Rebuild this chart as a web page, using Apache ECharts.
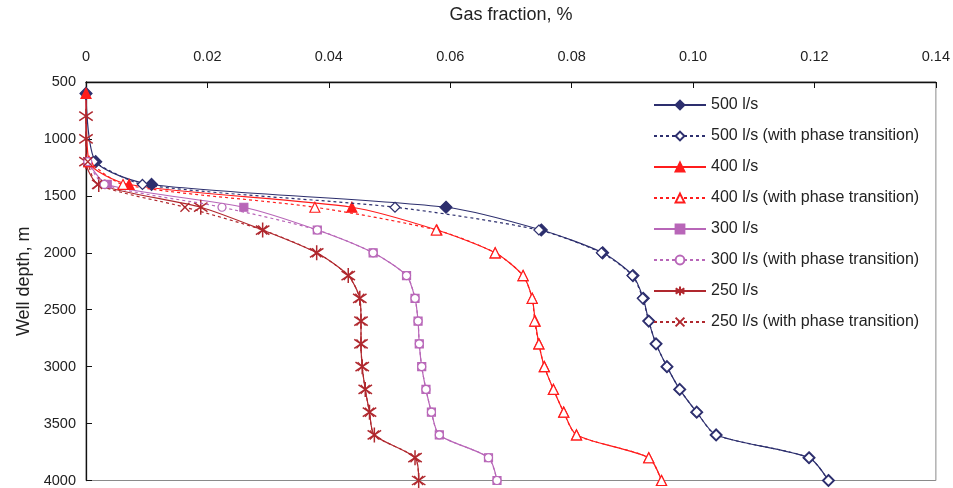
<!DOCTYPE html>
<html>
<head>
<meta charset="utf-8">
<script src="https://cdn.jsdelivr.net/npm/echarts@6/dist/echarts.min.js"></script>
<style>
  html, body { margin: 0; padding: 0; background: #fff; }
  #chart { width: 953px; height: 488px; }
</style>
</head>
<body>
<div id="chart"></div>
<script>
// well depth, m (shared by all series)
const depths = [600, 800, 1000, 1200, 1400, 1600, 1800, 2000, 2200, 2400, 2600, 2800, 3000, 3200, 3400, 3600, 3800, 4000];

// gas fraction, % (null = no point at that depth)
const q500 = [0, null, null, 0.0016, 0.0108, 0.0593, 0.0750, 0.0851, 0.0901, 0.0918, 0.0927, 0.0939, 0.0957, 0.0978, 0.1006, 0.1038, 0.1191, 0.1223];
const q500pt = [null, null, null, 0.0012, 0.0093, 0.0509, 0.0746, 0.0849, 0.0900, 0.0917, 0.0927, 0.0939, 0.0957, 0.0978, 0.1006, 0.1038, 0.1191, 0.1223];
const q400 = [0, null, null, 0.0005, 0.0071, 0.0438, 0.0578, 0.0674, 0.0720, 0.0735, 0.0740, 0.0746, 0.0755, 0.0770, 0.0787, 0.0808, 0.0927, 0.0948];
const q400pt = [null, null, null, 0.0005, 0.0061, 0.0377, 0.0577, 0.0674, 0.0720, 0.0735, 0.0739, 0.0746, 0.0755, 0.0770, 0.0787, 0.0808, 0.0927, 0.0948];
const q300 = [null, null, null, 0.0003, 0.0035, 0.0260, 0.0381, 0.0473, 0.0528, 0.0542, 0.0547, 0.0549, 0.0553, 0.0560, 0.0569, 0.0582, 0.0663, 0.0677];
const q300pt = [null, null, null, 0.0003, 0.0030, 0.0224, 0.0381, 0.0473, 0.0528, 0.0542, 0.0547, 0.0549, 0.0553, 0.0560, 0.0569, 0.0582, 0.0663, 0.0677];
const q250 = [null, 0, 0, 0, 0.0021, 0.0189, 0.0291, 0.0380, 0.0432, 0.0451, 0.0453, 0.0453, 0.0455, 0.0460, 0.0467, 0.0475, 0.0542, 0.0548];
const q250pt = [null, null, null, 0.0003, 0.0019, 0.0163, 0.0291, 0.0380, 0.0432, 0.0451, 0.0453, 0.0453, 0.0455, 0.0460, 0.0467, 0.0475, 0.0542, 0.0548];

const xTicks = [0, 0.02, 0.04, 0.06, 0.08, 0.10, 0.12, 0.14];

const NAVY = "#2d2f6e";
const RED = "#ff1c1c";
const PURPLE = "#b866b8";
const BROWN = "#b0282e";

const ASTERISK = "path://M5,0L5,10M0.5,2L9.5,8M9.5,2L0.5,8";
const CROSS = "path://M0,0L10,10M10,0L0,10";

const toPoints = (vals) =>
  vals.map((v, i) => (v === null ? null : [v, depths[i]])).filter((p) => p);

const makeSeries = (name, vals, color, dashed, symbol, size, opts = {}) => ({
  name,
  type: "line",
  data: toPoints(vals),
  smooth: 0.25,
  symbol,
  symbolSize: size,
  symbolKeepAspect: true,
  showAllSymbol: true,
  lineStyle: { color, width: 1.2, type: dashed ? [3, 3] : "solid" },
  itemStyle: {
    color: opts.fill || color,
    borderColor: color,
    borderWidth: opts.border || 1.2,
  },
  emphasis: { disabled: true },
  z: opts.z || 2,
});

const series = [
  makeSeries("500 l/s", q500, NAVY, false, "diamond", 12),
  makeSeries("500 l/s (with phase transition)", q500pt, NAVY, true, "diamond", 10, { fill: "#fff", z: 3 }),
  makeSeries("400 l/s", q400, RED, false, "triangle", 10),
  makeSeries("400 l/s (with phase transition)", q400pt, RED, true, "triangle", 10, { fill: "#fff", z: 3 }),
  makeSeries("300 l/s", q300, PURPLE, false, "rect", 8),
  makeSeries("300 l/s (with phase transition)", q300pt, PURPLE, true, "circle", 8, { fill: "#fff", z: 3 }),
  makeSeries("250 l/s", q250, BROWN, false, ASTERISK, 15, { border: 1.5 }),
  makeSeries("250 l/s (with phase transition)", q250pt, BROWN, true, CROSS, 9, { border: 1.3, z: 3 }),
];

const chart = echarts.init(document.getElementById("chart"));

chart.setOption({
  animation: false,
  textStyle: { fontFamily: "Liberation Sans, Arial, sans-serif" },
  grid: {
    left: 86,
    top: 82,
    right: 16,
    bottom: 4,
    show: true,
    borderColor: "#8a8a8a",
    borderWidth: 1,
  },
  legend: {
    orient: "vertical",
    left: 648,
    top: 92,
    itemWidth: 52,
    itemHeight: 11,
    itemGap: 15,
    textStyle: { fontSize: 16, color: "#222" },
    data: series.map((s) => s.name),
  },
  xAxis: {
    type: "value",
    position: "top",
    min: 0,
    max: 0.14,
    interval: 0.02,
    name: "Gas fraction, %",
    nameLocation: "middle",
    nameGap: 58,
    nameTextStyle: { fontSize: 18, color: "#222" },
    axisLine: { show: true, lineStyle: { color: "#111", width: 1.3 } },
    axisTick: { show: true, inside: true, length: 6, lineStyle: { color: "#111" } },
    axisLabel: {
      margin: 18,
      fontSize: 14.5,
      color: "#222",
      formatter: (v) => {
        const t = xTicks.find((x) => Math.abs(x - v) < 1e-9);
        return t === 0 ? "0" : (t ?? v).toFixed(2);
      },
    },
    splitLine: { show: false },
  },
  yAxis: {
    type: "value",
    inverse: true,
    min: 500,
    max: 4000,
    interval: 500,
    name: "Well depth, m",
    nameLocation: "middle",
    nameGap: 46,
    nameTextStyle: { fontSize: 18, color: "#222" },
    axisLine: { show: true, lineStyle: { color: "#111", width: 1.3 } },
    axisTick: { show: true, inside: true, length: 6, lineStyle: { color: "#111" } },
    axisLabel: { margin: 10, fontSize: 14.5, color: "#222", formatter: (v) => String(v) },
    splitLine: { show: false },
  },
  series,
});
</script>
</body>
</html>
